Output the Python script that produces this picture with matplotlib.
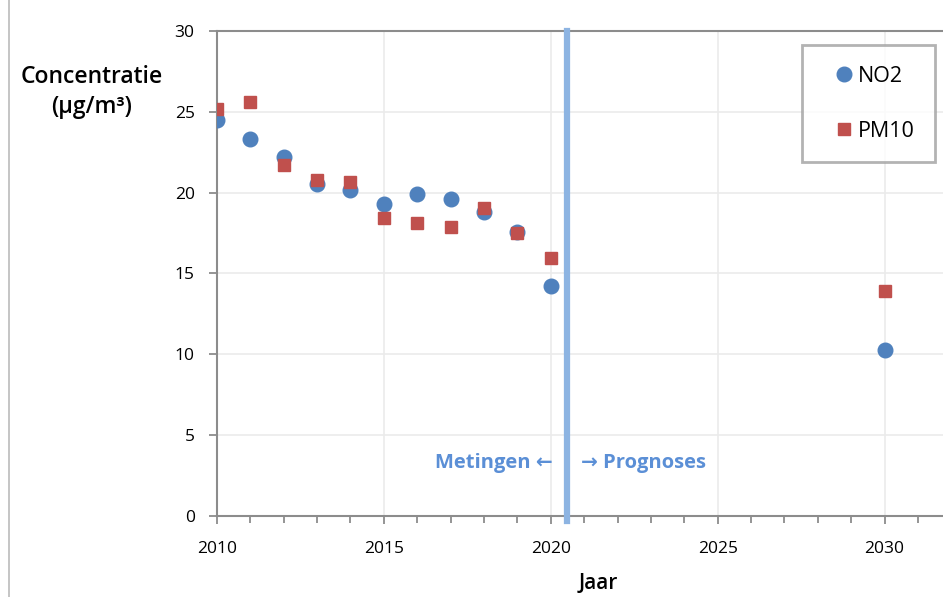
import matplotlib.pyplot as plt
from matplotlib.lines import Line2D
from matplotlib.ticker import MultipleLocator

# === DATA ===
years = [2010, 2011, 2012, 2013, 2014, 2015, 2016, 2017, 2018, 2019, 2020, 2030]
no2 = [24.5, 23.3, 22.2, 20.55, 20.15, 19.3, 19.9, 19.6, 18.8, 17.55, 14.2, 10.25]
pm10 = [25.15, 25.6, 21.7, 20.8, 20.65, 18.45, 18.1, 17.9, 19.05, 17.5, 15.95, 13.9]
split_year = 2020.5

# === STYLE ===
plt.rcParams['font.family'] = ['Open Sans', 'DejaVu Sans']
blue = '#4f81bd'
red = '#c0504d'
line_blue = '#8db4e2'
axis_gray = '#8c8c8c'

fig = plt.figure(figsize=(9.43, 5.97), dpi=100)
ax = fig.add_axes([0.230, 0.136, 0.770, 0.812])

ax.plot(years, no2, 'o', color=blue, markersize=10.5, label='NO2', zorder=3)
ax.plot(years, pm10, 's', color=red, markersize=8.5, label='PM10', zorder=3)

ax.axvline(split_year, ymin=-0.01, ymax=1.0, color=line_blue, lw=4.5,
           clip_on=False, zorder=4)
ax.text(split_year - 0.45, 3.25, 'Metingen \u2190', ha='right', va='center',
        color='#5b8fd6', fontsize=14.5, fontweight='bold')
ax.text(split_year + 0.4, 3.25, '\u2192 Prognoses', ha='left', va='center',
        color='#5b8fd6', fontsize=14.5, fontweight='bold')

ax.set_xlim(2010, 2031.75)
ax.set_ylim(0, 30)
ax.xaxis.set_major_locator(MultipleLocator(5))
ax.xaxis.set_minor_locator(MultipleLocator(1))
ax.yaxis.set_major_locator(MultipleLocator(5))
ax.grid(True, which='major', color='#ebebeb', lw=1.2, zorder=0)

ax.spines['right'].set_visible(False)
for s in ['left', 'bottom', 'top']:
    ax.spines[s].set_color(axis_gray)
    ax.spines[s].set_linewidth(1.5)
ax.tick_params(which='both', direction='out', color=axis_gray, width=1.3)
ax.tick_params(which='major', length=6, labelsize=12.5)
ax.tick_params(which='minor', length=5)
ax.tick_params(axis='x', pad=12)
ax.tick_params(axis='y', pad=10)

fig.text(0.097, 0.846, 'Concentratie\n(\u00b5g/m\u00b3)', ha='center', va='center',
         fontsize=16.5, fontweight='semibold', linespacing=1.35)
fig.text(0.634, 0.022, 'Jaar', ha='center', va='center', fontsize=15,
         fontweight='semibold')

leg = ax.legend(loc='upper right', bbox_to_anchor=(0.989, 0.971), frameon=True,
                fancybox=False, fontsize=15.5, handletextpad=-0.35,
                labelspacing=1.6, borderpad=0.95, handlelength=2.0,
                borderaxespad=0)
leg.get_frame().set_edgecolor('#a0a0a0')
leg.get_frame().set_linewidth(2)

fig.add_artist(Line2D([0.0095, 0.0095], [0.0, 1.0], color='#bbbbbb', lw=1.2,
                      transform=fig.transFigure))

plt.savefig('out.png', dpi=100)
plt.close()
